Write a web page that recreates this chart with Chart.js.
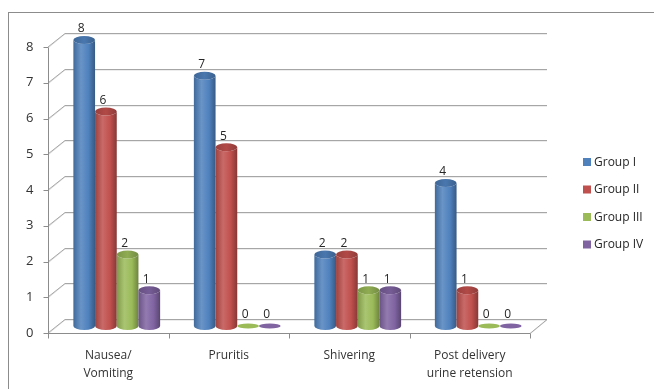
<!DOCTYPE html>
<html>
<head>
<meta charset="utf-8">
<script src="https://cdn.jsdelivr.net/npm/chart.js@4"></script>
<style>
  html, body { margin: 0; padding: 0; background: #fff; }
  #c { display: block; }
</style>
</head>
<body>
<canvas id="c" width="654" height="389"></canvas>
<script>
// chart data
const categories = [['Nausea/', 'Vomiting'], 'Pruritis', 'Shivering', ['Post delivery', 'urine retension']];
const groupNames = ['Group I', 'Group II', 'Group III', 'Group IV'];
const group1 = [8, 7, 2, 4];
const group2 = [6, 5, 2, 1];
const group3 = [2, 0, 1, 0];
const group4 = [1, 0, 1, 0];
const yTicks = [0, 1, 2, 3, 4, 5, 6, 7, 8];
const colors = ['#4F81BD', '#C0504D', '#9BBB59', '#8064A2'];

// half depth of the 3d box (front plane = -DX,+DY, back plane = +DX,-DY)
const DX = 8.5, DY = 7;
const FONT = "'Open Sans', 'Liberation Sans', sans-serif";

// mix a hex colour with white (amt>0) or black (amt<0)
function shade(hex, amt){
  const n = parseInt(hex.slice(1), 16);
  let r = n >> 16, g = (n >> 8) & 255, b = n & 255;
  const t = amt < 0 ? 0 : 255, p = Math.abs(amt);
  r = Math.round(r + (t - r) * p);
  g = Math.round(g + (t - g) * p);
  b = Math.round(b + (t - b) * p);
  return `rgb(${r},${g},${b})`;
}

function cylinder(ctx, cx, top, base, w, col){
  const rx = w / 2, ry = 4;
  const l = cx - rx, r = cx + rx;
  if(base - top < 0.5){
    // zero value: flat disc on the floor
    ctx.beginPath();
    ctx.ellipse(cx, base, rx, 2.5, 0, 0, Math.PI * 2);
    ctx.fillStyle = col;
    ctx.fill();
    return;
  }
  const g = ctx.createLinearGradient(l, 0, r, 0);
  g.addColorStop(0, shade(col, -0.18));
  g.addColorStop(0.35, shade(col, 0.15));
  g.addColorStop(0.7, col);
  g.addColorStop(1, shade(col, -0.3));
  ctx.beginPath();
  ctx.moveTo(l, top);
  ctx.lineTo(l, base);
  ctx.ellipse(cx, base, rx, ry, 0, Math.PI, 0, true);
  ctx.lineTo(r, top);
  ctx.ellipse(cx, top, rx, ry, 0, 0, Math.PI, false);
  ctx.closePath();
  ctx.fillStyle = g;
  ctx.fill();
  // top cap
  const gt = ctx.createLinearGradient(l, 0, r, 0);
  gt.addColorStop(0, shade(col, -0.2));
  gt.addColorStop(0.5, shade(col, -0.08));
  gt.addColorStop(1, shade(col, -0.25));
  ctx.beginPath();
  ctx.ellipse(cx, top, rx, ry, 0, 0, Math.PI * 2);
  ctx.fillStyle = gt;
  ctx.fill();
}

function hline(ctx, x1, x2, y, col){
  ctx.strokeStyle = col;
  ctx.beginPath();
  ctx.moveTo(x1, y);
  ctx.lineTo(x2, y);
  ctx.stroke();
}

const threeD = {
  id: 'threeD',
  beforeDraw(chart){
    const ctx = chart.ctx;
    ctx.save();
    ctx.strokeStyle = '#8c8c8c';
    ctx.lineWidth = 1;
    ctx.strokeRect(8.5, 12.5, 660, 400);
    ctx.restore();
  },
  beforeDatasetsDraw(chart){
    const ctx = chart.ctx, ys = chart.scales.y, a = chart.chartArea;
    const fl = a.left - DX, fr = a.right - DX, bl = a.left + DX, br = a.right + DX;
    ctx.save();
    ctx.lineWidth = 1;
    yTicks.forEach(v => {
      const p = Math.round(ys.getPixelForValue(v));
      // shadow
      ctx.strokeStyle = '#dcdcdc';
      ctx.beginPath();
      ctx.moveTo(fl, p + DY + 1);
      ctx.lineTo(bl, p - DY + 1);
      ctx.lineTo(br, p - DY + 1);
      if(v === 0) ctx.lineTo(fr, p + DY + 1);
      ctx.stroke();
      ctx.strokeStyle = '#a6a6a6';
      ctx.beginPath();
      ctx.moveTo(fl, p + DY);
      ctx.lineTo(bl, p - DY + 0.5);
      ctx.lineTo(br, p - DY + 0.5);
      if(v === 0) ctx.lineTo(fr, p + DY + 0.5);
      ctx.stroke();
      // tick mark on the front axis
      hline(ctx, fl - 4.5, fl, p + DY + 0.5, '#8c8c8c');
    });
    const y0 = Math.round(ys.getPixelForValue(0)) + DY + 0.5;
    const y8 = Math.round(ys.getPixelForValue(8)) + DY + 0.5;
    ctx.strokeStyle = '#8c8c8c';
    ctx.beginPath();
    ctx.moveTo(Math.round(fl) + 0.5, y0 + 1);
    ctx.lineTo(Math.round(fl) + 0.5, y8);
    ctx.stroke();
    hline(ctx, fl, fr, y0, '#8c8c8c');
    const n = categories.length, step = (a.right - a.left) / n;
    for(let i = 0; i <= n; i++){
      const x = Math.round(fl + i * step) + 0.5;
      ctx.beginPath();
      ctx.moveTo(x, y0);
      ctx.lineTo(x, y0 + 5);
      ctx.stroke();
    }
    ctx.restore();
  },
  beforeDatasetDraw(){
    return false;
  },
  afterDatasetsDraw(chart){
    const ctx = chart.ctx;
    ctx.save();
    chart.data.datasets.forEach((ds, di) => {
      const meta = chart.getDatasetMeta(di);
      meta.data.forEach(el => {
        const {x, y, base, width} = el.getProps(['x', 'y', 'base', 'width'], true);
        cylinder(ctx, x, y, base, width, ds.backgroundColor);
      });
    });
    // value labels
    ctx.font = '12px ' + FONT;
    ctx.fillStyle = '#262626';
    ctx.textAlign = 'center';
    ctx.textBaseline = 'middle';
    chart.data.datasets.forEach((ds, di) => {
      const meta = chart.getDatasetMeta(di);
      meta.data.forEach((el, i) => {
        const {x, y} = el.getProps(['x', 'y'], true);
        ctx.fillText(String(ds.data[i]), x - 3, y - 11);
      });
    });
    ctx.restore();
  },
  afterDraw(chart){
    // legend on the right
    const ctx = chart.ctx;
    ctx.save();
    ctx.font = '12px ' + FONT;
    ctx.textBaseline = 'middle';
    ctx.textAlign = 'left';
    chart.data.datasets.forEach((ds, i) => {
      const cy = 162 + i * 27.5;
      ctx.fillStyle = ds.backgroundColor;
      ctx.fillRect(583, cy - 4, 8, 8);
      ctx.fillStyle = '#262626';
      ctx.fillText(ds.label, 594, cy + 0.5);
    });
    ctx.restore();
  }
};

const seriesValues = [group1, group2, group3, group4];

new Chart(document.getElementById('c'), {
  type: 'bar',
  data: {
    labels: categories,
    datasets: seriesValues.map((vals, i) => ({
      label: groupNames[i],
      data: vals,
      backgroundColor: colors[i],
      categoryPercentage: 0.72,
      barPercentage: 1
    }))
  },
  options: {
    responsive: false,
    devicePixelRatio: 1,
    animation: false,
    layout: { padding: { left: 0, right: 115.5, top: 40, bottom: 0 } },
    plugins: { legend: { display: false }, tooltip: { enabled: false } },
    scales: {
      x: {
        grid: { display: false, drawTicks: false },
        border: { display: false },
        ticks: {
          padding: 21,
          labelOffset: -DX,
          color: '#333',
          font: { family: FONT, size: 12, lineHeight: 1.5 }
        },
        afterFit(scale){ scale.height = 63; }
      },
      y: {
        min: 0,
        max: 8,
        grid: { display: false, drawTicks: false },
        border: { display: false },
        ticks: {
          stepSize: 1,
          padding: 23,
          labelOffset: DY,
          color: '#333',
          font: { family: FONT, size: 13 }
        },
        afterFit(scale){ scale.width = 56.5; }
      }
    }
  },
  plugins: [threeD]
});
</script>
</body>
</html>
